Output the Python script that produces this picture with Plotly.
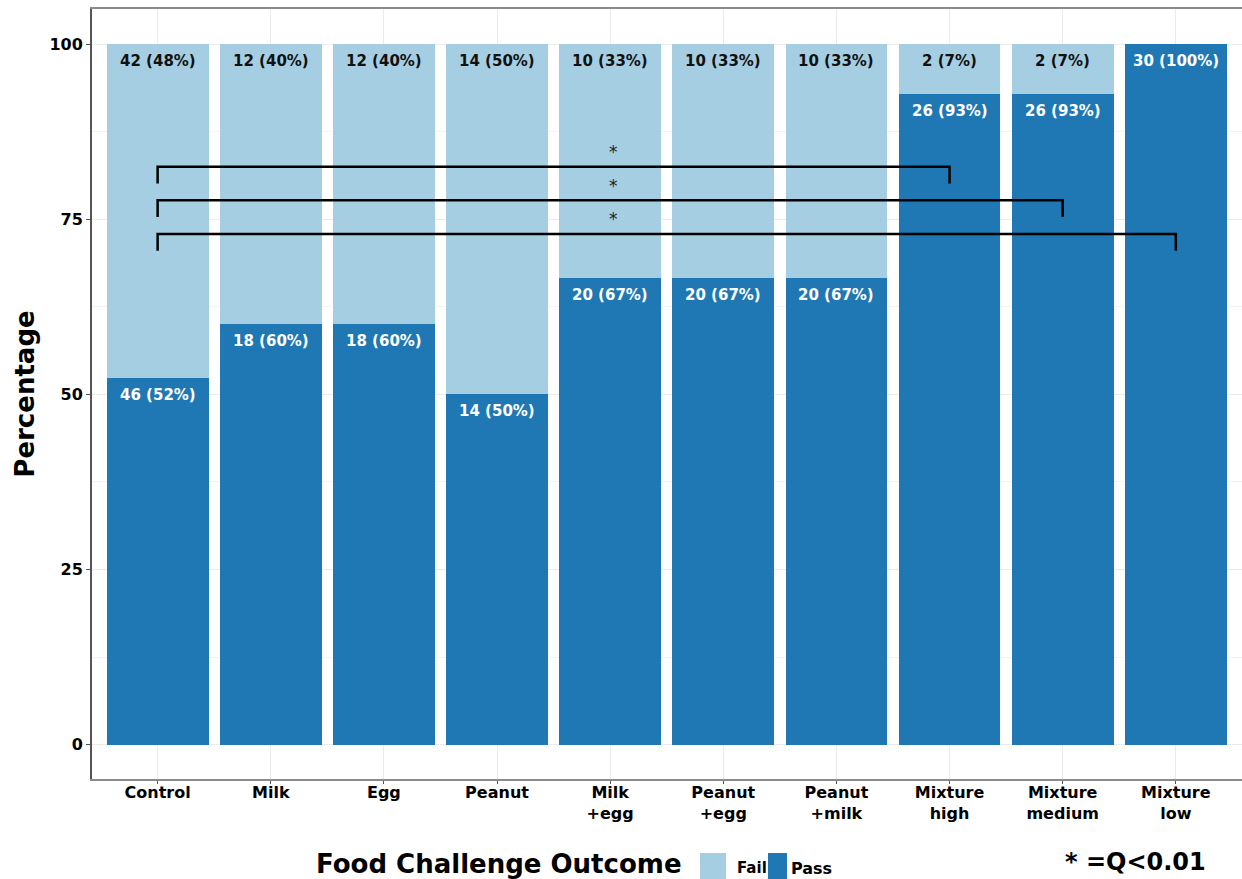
import plotly.graph_objects as go

# Food challenge results per group (counts of children)
groups = ["Control", "Milk", "Egg", "Peanut", "Milk<br>+egg", "Peanut<br>+egg",
          "Peanut<br>+milk", "Mixture<br>high", "Mixture<br>medium", "Mixture<br>low"]
fail_n = [42, 12, 12, 14, 10, 10, 10, 2, 2, 0]
pass_n = [46, 18, 18, 14, 20, 20, 20, 26, 26, 30]

# Pairwise comparisons against Control (index pairs) with significance marks
comparisons = [(0, 7), (0, 8), (0, 9)]
bracket_y = [82.5, 77.7, 72.9]
star_x = 4.03

FAIL_COLOR = "#a6cee3"
PASS_COLOR = "#1f78b4"
FONT = "DejaVu Sans, Verdana, sans-serif"

# Plot-area geometry in pixels, used to place the bottom legend
W, H = 1242, 879
L, R, T, B = 92, 0, 9, 100
PW, PH = W - L - R, H - T - B


def px(x):
    return (x - L) / PW


def py(y):
    return (H - B - y) / PH


totals = [f + p for f, p in zip(fail_n, pass_n)]
pass_pct = [p / t * 100 for p, t in zip(pass_n, totals)]
fail_pct = [f / t * 100 for f, t in zip(fail_n, totals)]
xs = list(range(len(groups)))

fig = go.Figure()
fig.add_trace(go.Bar(x=xs, y=pass_pct, marker=dict(color=PASS_COLOR, line=dict(width=0)),
                     name="Pass", width=0.9, showlegend=False))
fig.add_trace(go.Bar(x=xs, y=fail_pct, marker=dict(color=FAIL_COLOR, line=dict(width=0)),
                     name="Fail", width=0.9, showlegend=False))

annotations = []
for i in xs:
    if fail_n[i] > 0:
        annotations.append(dict(
            x=i, y=100, xref="x", yref="y", yanchor="top", yshift=-6, showarrow=False,
            text=f"{fail_n[i]} ({fail_pct[i]:.0f}%)",
            font=dict(family=FONT, size=15, color="#111111", weight="bold")))
    annotations.append(dict(
        x=i, y=pass_pct[i], xref="x", yref="y", yanchor="top", yshift=-6, showarrow=False,
        text=f"{pass_n[i]} ({pass_pct[i]:.0f}%)",
        font=dict(family=FONT, size=15, color="white", weight="bold")))

shapes = []
for (a, b), yb in zip(comparisons, bracket_y):
    drop = 2.4
    shapes.append(dict(type="path", xref="x", yref="y",
                       path=f"M {a},{yb - drop} L {a},{yb} L {b},{yb} L {b},{yb - drop}",
                       line=dict(color="black", width=2.5)))
    annotations.append(dict(x=star_x, y=yb + 2.1, xref="x", yref="y", showarrow=False,
                            text="*", font=dict(family="DejaVu Sans", size=17, color="#222222")))

# Bottom legend: title, two swatches with labels, and the significance note
annotations += [
    dict(x=px(499), y=py(864), text="Food Challenge Outcome", xanchor="center",
         font=dict(family=FONT, size=26, color="black", weight="bold")),
    dict(x=px(735), y=py(868), text="Fail", xanchor="left",
         font=dict(family=FONT, size=15, color="black", weight="bold")),
    dict(x=px(789), y=py(868), text="Pass", xanchor="left",
         font=dict(family=FONT, size=16, color="black", weight="bold")),
    dict(x=px(1135), y=py(862), text="* =Q<0.01", xanchor="center",
         font=dict(family=FONT, size=24, color="black", weight="bold")),
]
for a in annotations[-4:]:
    a.update(xref="paper", yref="paper", yanchor="middle", showarrow=False)

shapes.append(dict(type="rect", xref="paper", yref="paper", x0=px(700), x1=px(726),
                   y0=py(879), y1=py(853), fillcolor=FAIL_COLOR, line=dict(width=0)))
shapes.append(dict(type="rect", xref="paper", yref="paper", x0=px(768), x1=px(787),
                   y0=py(879), y1=py(853), fillcolor=PASS_COLOR, line=dict(width=0)))

for a in annotations:
    fig.add_annotation(**a)

fig.update_layout(
    width=W, height=H,
    margin=dict(l=L, r=R, t=T, b=B),
    barmode="stack", bargap=0.1,
    plot_bgcolor="white", paper_bgcolor="white",
    shapes=shapes,
    font=dict(family=FONT),
)
fig.update_xaxes(
    range=[-0.58, 9.585], tickvals=xs, ticktext=groups,
    showgrid=True, gridcolor="#ebebeb", gridwidth=1,
    showline=True, linecolor="#8a8a8a", linewidth=2, mirror=True,
    ticks="outside", ticklen=3, tickcolor="#555555",
    ticklabelstandoff=-5,
    tickfont=dict(family=FONT, size=16, color="black", weight="bold"),
    zeroline=False,
)
fig.update_yaxes(
    range=[-4.9, 105], tickvals=[0, 25, 50, 75, 100],
    showgrid=True, gridcolor="#ebebeb", gridwidth=1,
    minor=dict(dtick=12.5, tick0=0, showgrid=True, gridcolor="#f3f3f3", gridwidth=1),
    showline=True, linecolor="#555555", linewidth=2,
    ticks="outside", ticklen=4, tickcolor="#555555",
    tickfont=dict(family=FONT, size=16, color="black", weight="bold"),
    title=dict(text="Percentage", standoff=7,
               font=dict(family=FONT, size=26, color="black", weight="bold")),
    zeroline=False,
)

fig.write_html("out.html")
